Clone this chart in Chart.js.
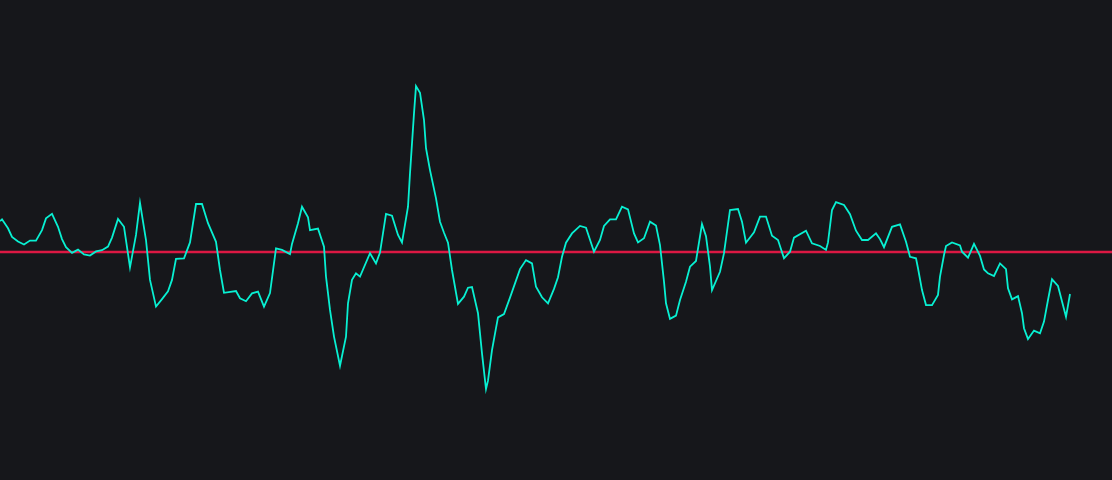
<!DOCTYPE html>
<html>
<head>
<meta charset="utf-8">
<script src="https://cdn.jsdelivr.net/npm/chart.js@4"></script>
<style>
  html, body { margin: 0; padding: 0; background: #16171b; }
  #wrap { width: 1112px; height: 480px; }
</style>
</head>
<body>
<div id="wrap"><canvas id="mychart"></canvas></div>
<script>
// sample number of each turning point
const samples = [0,1,4,6,9,12,15,18,21,23,26,29,31,33,36,39,42,45,48,51,54,56,59,62,65,68,70,73,75,78,81,84,86,88,92,95,98,101,104,108,110,112,118,120,123,126,129,132,135,138,141,145,146,149,151,154,155,159,162,163,165,167,170,173,174,176,178,180,185,188,190,193,196,199,201,204,205,207,208,210,212,213,215,218,220,222,224,226,229,232,234,236,239,241,243,244,246,248,249,252,255,260,263,266,268,271,274,277,279,281,283,286,290,293,297,300,302,305,308,311,314,317,319,322,325,328,330,332,333,335,338,340,343,345,348,351,353,355,356,360,362,365,369,371,373,377,380,383,386,389,392,395,397,403,406,410,413,414,416,418,422,425,428,431,434,438,440,442,446,450,453,455,458,459,461,463,466,469,470,472,473,476,480,481,484,487,490,492,494,497,500,503,504,506,509,511,512,514,517,520,522,524,526,529,533,535];

// oscillator value at each of those samples
const values = [10.3,10.9,7.9,5.0,3.5,2.5,3.8,3.8,7.3,11.2,12.7,8.4,4.3,1.6,-0.3,0.8,-0.8,-1.2,0.2,0.6,1.8,4.8,11.0,8.4,-5.1,5.7,16.4,4.0,-9.3,-18.2,-15.7,-13.1,-9.3,-2.3,-2.1,3.2,16.0,16.0,9.6,3.4,-6.0,-13.6,-13.0,-15.4,-16.4,-13.8,-13.2,-18.2,-13.7,1.2,0.7,-0.7,2.7,9.6,15.1,11.6,7.3,7.8,1.8,-8.2,-19.3,-28.2,-37.9,-28.2,-17.1,-9.3,-7.1,-8.2,-0.4,-3.8,-0.2,12.7,12.1,5.7,3.2,15.1,26.2,46.2,55.3,53.1,44.0,34.6,27.3,17.9,10.1,6.4,3.1,-6.0,-17.3,-14.9,-11.9,-11.7,-20.4,-33.8,-45.7,-42.9,-32.7,-25.4,-21.8,-20.7,-15.2,-5.7,-2.7,-3.8,-11.6,-15.1,-17.1,-12.3,-8.4,-1.6,3.1,6.2,8.7,8.1,0.1,4.0,8.7,10.9,10.9,15.1,14.2,6.2,3.2,4.6,10.1,8.8,2.3,-9.9,-17.1,-22.3,-21.2,-16.0,-9.9,-4.9,-3.0,9.3,5.3,-4.9,-12.7,-6.6,-0.4,14.0,14.3,10.1,3.1,6.6,11.8,11.8,5.4,4.0,-2.1,0.1,4.8,7.1,2.9,2.0,0.7,3.2,14.0,16.6,15.7,12.6,7.1,4.0,4.0,6.2,4.3,1.6,8.4,9.2,3.4,-1.6,-2.1,-5.4,-12.7,-17.7,-17.7,-14.3,-8.2,-1.0,2.0,3.2,2.2,0.1,-1.9,2.7,-1.3,-5.8,-7.1,-8.0,-3.8,-5.7,-12.1,-15.8,-14.7,-20.4,-25.4,-29.0,-26.2,-27.1,-23.2,-16.0,-9.1,-11.3,-21.6,-14.0];

const baseline = 0;
const xMax = 556;
const yMin = -76;
const yMax = 84;

const ctx = document.querySelector('#mychart');

new Chart(ctx, {
    type: 'line',
    data: {
        datasets: [{
            label: 'Oscillator',
            data: samples.map((s, i) => ({ x: s, y: values[i] })),
            borderColor: '#08f0d2',
            borderWidth: 1.8,
            pointRadius: 0,
            tension: 0,
            order: 1
        }, {
            label: 'Zero',
            data: [{ x: 0, y: baseline }, { x: xMax, y: baseline }],
            borderColor: '#dc1843',
            borderWidth: 2.5,
            pointRadius: 0,
            order: 2
        }]
    },
    options: {
        responsive: true,
        maintainAspectRatio: false,
        animation: false,
        layout: { padding: 0 },
        plugins: {
            legend: { display: false },
            tooltip: { enabled: false }
        },
        scales: {
            x: { type: 'linear', min: 0, max: xMax, display: false },
            y: { min: yMin, max: yMax, display: false }
        }
    }
});
</script>
</body>
</html>
